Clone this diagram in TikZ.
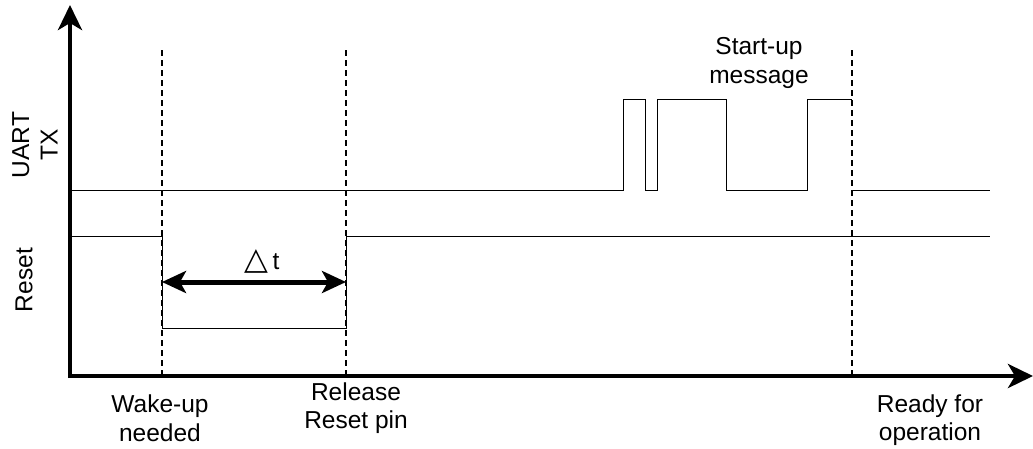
\documentclass[tikz,border=0pt]{standalone}
\usepackage{fontspec}
\setmainfont{Liberation Sans}
\newfontfamily\symfont{DejaVu Sans}
\usetikzlibrary{arrows.meta}
\begin{document}
\begin{tikzpicture}[x=1pt,y=-1pt,
  axis/.style={line width=4.5pt,-{Stealth[length=25pt,width=24pt,inset=7pt]}},
  sig/.style={line width=1pt},
  marker/.style={line width=1.5pt,dash pattern=on 6pt off 4pt},
  span/.style={line width=5pt,{Stealth[length=24pt,width=22pt,inset=6pt]}-{Stealth[length=24pt,width=22pt,inset=6pt]}},
  lbl/.style={font=\fontsize{24.5}{28.5}\selectfont,align=center,inner sep=0pt}]
\useasboundingbox (0,0) rectangle (1033,448);
% axes
\coordinate (o) at (70,376);
\coordinate (ytop) at (70,5);
\coordinate (xend) at (1033,376);
% markers
\coordinate (m1t) at (162,50); \coordinate (m1b) at (162,376);
\coordinate (m2t) at (346,50); \coordinate (m2b) at (346,376);
\coordinate (m3t) at (852,50); \coordinate (m3b) at (852,376);
% UART TX waveform
\coordinate (u0) at (70,190);
\coordinate (u1) at (623,190);
\coordinate (u2) at (852,99);
\coordinate (u3) at (852,190);
\coordinate (u4) at (990,190);
\draw[sig] (u0) -- (u1) |- (645,99) |- (657,190) |- (726,99) |- (807,190) |- (u2);
\draw[sig] (u3) -- (u4);
% Reset waveform
\coordinate (r0) at (70,236);
\coordinate (r1) at (162,236);
\coordinate (r2) at (162,328);
\coordinate (r3) at (346,328);
\coordinate (r4) at (346,236);
\coordinate (r5) at (990,236);
\draw[sig] (r0) -- (r1) -- (r2) -- (r3) -- (r4) -- (r5);
% dashed markers
\draw[marker] (m1t) -- (m1b);
\draw[marker] (m2t) -- (m2b);
\draw[marker] (m3t) -- (m3b);
% axes drawn
\draw[axis] (68,376) -- (xend);
\draw[axis] (70,378) -- (ytop);
% delta t
\coordinate (dl) at (162,282);
\coordinate (dr) at (346,282);
\draw[span] (dl) -- (dr);
\node[lbl] (dt) at (262,261) {{\symfont\fontsize{31}{31}\selectfont △}\,t};
% labels
\node[lbl,rotate=90] (uart) at (35,145) {UART\\TX};
\node[lbl,rotate=90] (reset) at (24,280) {Reset};
\node[lbl] (wake) at (160,418) {Wake-up\\needed};
\node[lbl] (rel) at (356,408) {Release\\Reset pin};
\node[lbl] (ready) at (930,420) {Ready for\\operation};
\node[lbl] (start) at (759,63) {Start-up\\message};
\end{tikzpicture}
\end{document}
